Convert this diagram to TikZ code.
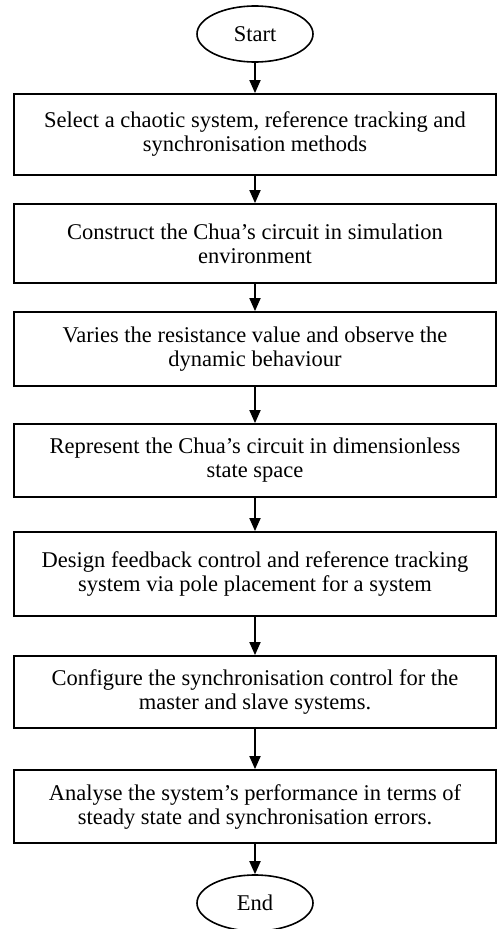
\documentclass[tikz,border=0pt]{standalone}
\usepackage{fontspec}
\setmainfont{Liberation Serif}
\usetikzlibrary{shapes.geometric,arrows.meta}
\begin{document}
\begin{tikzpicture}[x=1pt,y=1pt,
  every node/.style={font=\fontsize{22.5}{24}\selectfont},
  stepbox/.style={draw, line width=1.8pt, rectangle, minimum width=482pt,
    inner sep=0pt, align=center},
  term/.style={draw, ellipse, line width=1.6pt, minimum width=116pt,
    minimum height=56pt, inner sep=0pt},
  flow/.style={line width=1.8pt, -{Triangle[length=13pt,width=11pt]}}]
\useasboundingbox (0,0) rectangle (497,-929);
\clip (0,0) rectangle (497,-929);

% terminals
\node[term] (start) at (255,-34) {Start};
\node[term] (finish) at (255,-903) {End};

% process steps
\node[stepbox, minimum height=81pt] (b1) at (255,-134.5)
  {Select a chaotic system, reference tracking and\\synchronisation methods};
\node[stepbox, minimum height=79pt] (b2) at (255,-243.5)
  {Construct the Chua’s circuit in simulation\\environment};
\node[stepbox, minimum height=74pt] (b3) at (255,-349)
  {Varies the resistance value and observe the\\dynamic behaviour};
\node[stepbox, minimum height=73pt] (b4) at (255,-460.5)
  {Represent the Chua’s circuit in dimensionless\\state space};
\node[stepbox, minimum height=84pt] (b5) at (255,-574)
  {Design feedback control and reference tracking\\system via pole placement for a system};
\node[stepbox, minimum height=72pt] (b6) at (255,-692)
  {Configure the synchronisation control for the\\master and slave systems.};
\node[stepbox, minimum height=73pt] (b7) at (255,-806.5)
  {Analyse the system’s performance in terms of\\steady state and synchronisation errors.};

% connectors
\draw[flow] (start) -- (b1);
\draw[flow] (b1) -- (b2);
\draw[flow] (b2) -- (b3);
\draw[flow] (b3) -- (b4);
\draw[flow] (b4) -- (b5);
\draw[flow] (b5) -- (b6);
\draw[flow] (b6) -- (b7);
\draw[flow] (b7) -- (finish);
\end{tikzpicture}
\end{document}
